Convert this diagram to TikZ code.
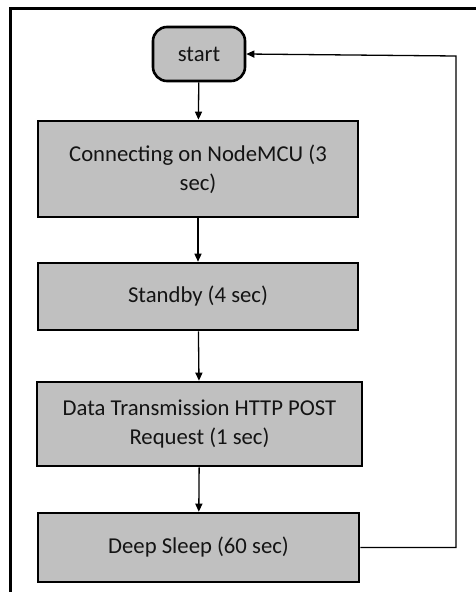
\documentclass[tikz,border=0pt]{standalone}
\usepackage{fontspec}
\setmainfont{Carlito}
\usetikzlibrary{arrows.meta}
\definecolor{boxgray}{RGB}{192,192,192}
\definecolor{ink}{RGB}{20,20,20}
\tikzset{
  stepbox/.style={draw=black, line width=2.6pt, fill=boxgray, inner sep=0pt, align=center,
    text=ink, font=\fontsize{22.7}{29}\selectfont},
  startbox/.style={stepbox, rounded corners=14pt},
  conn/.style={line width=1.3pt, -{Triangle[length=8pt,width=7pt]}}
}
\begin{document}
\begin{tikzpicture}[x=1pt,y=1pt]
\useasboundingbox (0,0) rectangle (476,-592);
\fill[white] (0,0) rectangle (476,-592);
\draw[line width=3pt] (10,-600) -- (10,-8) -- (480,-8);
\node[startbox, minimum width=92pt, minimum height=54pt] (start) at (199,-54) {start};
\node[stepbox, minimum width=320pt, minimum height=96pt] (conn1) at (198,-169) {Connecting on NodeMCU (3\\sec)};
\node[stepbox, minimum width=320pt, minimum height=67pt] (stand) at (198,-296.5) {Standby (4 sec)};
\node[stepbox, minimum width=325pt, minimum height=84pt] (data) at (199.5,-424) {Data Transmission HTTP POST\\Request (1 sec)};
\node[stepbox, minimum width=321pt, minimum height=69pt] (deep) at (198.5,-547.5) {Deep Sleep (60 sec)};
\coordinate (corner) at (456,-56);
\draw[conn] (start) -- (conn1);
\draw[conn] (conn1) -- (stand);
\draw[conn] (stand) -- (data);
\draw[conn] (data) -- (deep);
\draw[conn] (deep.east) -| (corner) -- (start.east);
\end{tikzpicture}
\end{document}
